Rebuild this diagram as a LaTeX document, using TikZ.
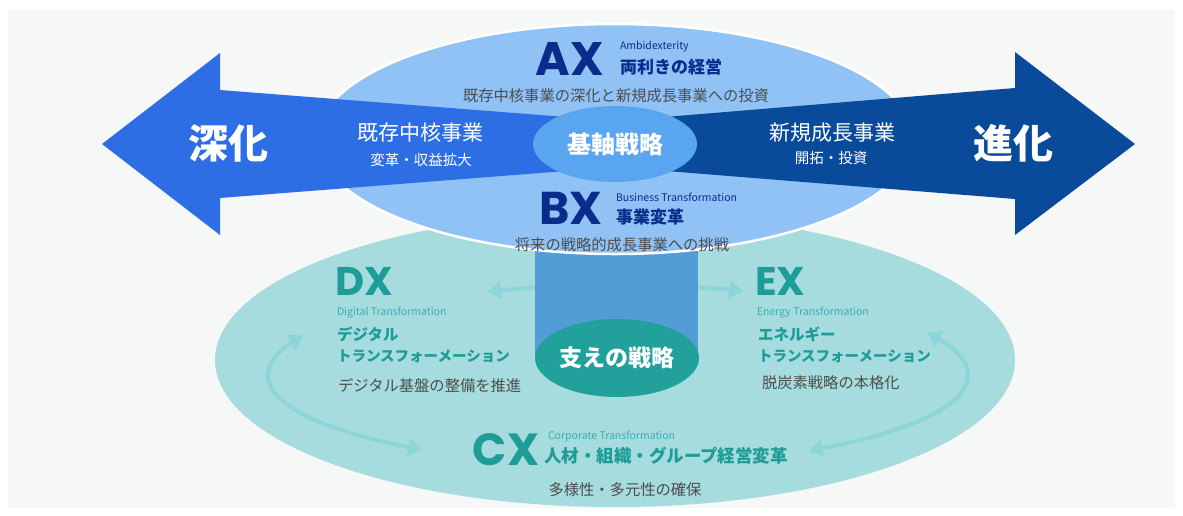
\documentclass[tikz,border=0pt]{standalone}
\usepackage{fontspec}
\usetikzlibrary{arrows.meta,shapes.geometric}
\newfontfamily\jp{Noto Sans CJK JP}
\newfontfamily\pop{Poppins}
\newcommand\fsz[1]{\fontsize{#1}{#1}\selectfont}
\definecolor{bggray}{HTML}{F6F7F7}
\definecolor{arrowL}{HTML}{2D6EE4}
\definecolor{arrowR}{HTML}{0A4A9B}
\definecolor{ellblue}{HTML}{90C2F5}
\definecolor{kijiku}{HTML}{5AA5F0}
\definecolor{navy}{HTML}{0A2C8A}
\definecolor{tealbg}{HTML}{A6DCDE}
\definecolor{tealdark}{HTML}{21A09C}
\definecolor{tealtext}{HTML}{1E9C98}
\definecolor{teallight}{HTML}{3AAEB0}
\definecolor{loopcol}{HTML}{8CD5D9}
\definecolor{cyl}{HTML}{4A97D6}
\definecolor{txtgray}{HTML}{4D4D4D}
\begin{document}
\begin{tikzpicture}[x=1pt,y=-1pt,
  every node/.style={inner sep=0pt,outer sep=0pt},
  bigx/.style={font=\pop\bfseries\fsz{#1},text depth=0pt},
  jpb/.style={font=\jp\bfseries\fsz{#1}},
  jpr/.style={font=\jp\fsz{#1}},
  sub/.style={font=\jp\fsz{10.5}},
  grayt/.style={jpr=15.3,text=txtgray},
  loopline/.style={draw=loopcol,line width=4pt,{Triangle[length=14pt,width=17pt]}-{Triangle[length=14pt,width=17pt]}},
  oval/.style={ellipse,minimum width=#1}]
\useasboundingbox (0,0) rectangle (1183,515);
\fill[white] (0,0) rectangle (1183,515);
\fill[bggray] (8,10) rectangle (1175,508);

% lower teal ellipse
\fill[tealbg] (615,360) ellipse [x radius=400pt, y radius=147pt];

% loop arrows
\draw[loopline] plot[domain=248:291,samples=30,smooth,variable=\t] ({618+350*cos(\t)},{375+90*sin(\t)});
\draw[loopline] plot[domain=124:206,samples=40,smooth,variable=\t] ({618+350*cos(\t)},{375+90*sin(\t)});
\draw[loopline] plot[domain=-28:57,samples=40,smooth,variable=\t] ({618+350*cos(\t)},{375+90*sin(\t)});

% cylinder
\fill[cyl,opacity=0.9] (535,235) rectangle (698,358);
\node[oval=164pt,minimum height=78pt,fill=tealdark,text=white,jpb=23] (sasae) at (617,358) {支えの戦略};

% upper blue ellipse
\fill[ellblue,draw=white,line width=2.5pt] (615,139) ellipse [x radius=298pt, y radius=115pt];

% big arrows
\fill[arrowL] (102,144) -- (220,53) -- (220,90) -- (617,121) -- (617,167) -- (220,198) -- (220,235) -- cycle;
\fill[arrowR] (1135,144) -- (1015,52) -- (1015,88) -- (617,121) -- (617,167) -- (1015,199) -- (1015,235) -- cycle;

\node[oval=164pt,minimum height=76pt,fill=kijiku,text=white,jpb=24] (kijikun) at (615,144) {基軸戦略};

% arrow labels
\node[jpb=40,text=white] (shinka1) at (228,143) {深化};
\node[jpb=40,text=white] (shinka2) at (1013,143) {進化};
\node[jpr=21,text=white] (kizon) at (420,133) {既存中核事業};
\node[jpr=14.5,text=white] (kizon2) at (421,160) {変革・収益拡大};
\node[jpr=21,text=white] (shinki) at (832,133) {新規成長事業};
\node[jpr=14.5,text=white] (shinki2) at (831,158) {開拓・投資};

% AX
\node[bigx=47,text=navy] (ax) at (570,59) {AX};
\node[sub,text=navy,anchor=west] (axen) at (620,47) {Ambidexterity};
\node[jpb=17,text=navy,anchor=west] (axjp) at (620,67) {両利きの経営};
\node[grayt] (axdesc) at (616,96) {既存中核事業の深化と新規成長事業への投資};

% BX
\node[bigx=46,text=navy] (bx) at (571,208) {BX};
\node[sub,text=navy,anchor=west] (bxen) at (616,197) {Business Transformation};
\node[jpb=17,text=navy,anchor=west] (bxjp) at (616,217) {事業変革};
\node[grayt] (bxdesc) at (622,245) {将来の戦略的成長事業への挑戦};

% DX
\node[bigx=40,text=tealtext,anchor=west] (dx) at (335,281) {DX};
\node[sub,text=teallight,anchor=west] (dxen) at (337,313) {Digital Transformation};
\node[jpb=15.5,text=tealtext,anchor=west] (dxjp1) at (337,334) {デジタル};
\node[jpb=14.5,text=tealtext,anchor=west] (dxjp2) at (337,356) {トランスフォーメーション};
\node[grayt,anchor=west] (dxdesc) at (338,386) {デジタル基盤の整備を推進};

% EX
\node[bigx=40,text=tealtext,anchor=west] (ex) at (755,281) {EX};
\node[sub,text=teallight,anchor=west] (exen) at (757,313) {Energy Transformation};
\node[jpb=15.5,text=tealtext,anchor=west] (exjp1) at (758,334) {エネルギー};
\node[jpb=14.5,text=tealtext,anchor=west] (exjp2) at (758,356) {トランスフォーメーション};
\node[grayt,anchor=west] (exdesc) at (762,383) {脱炭素戦略の本格化};

% CX
\node[bigx=45,text=tealtext] (cx) at (506,450) {CX};
\node[sub,text=teallight,anchor=west] (cxen) at (548,436) {Corporate Transformation};
\node[jpb=17.5,text=tealtext,anchor=west] (cxjp) at (544,456) {人材・組織・グループ経営変革};
\node[grayt] (cxdesc) at (625,490) {多様性・多元性の確保};
\end{tikzpicture}
\end{document}
